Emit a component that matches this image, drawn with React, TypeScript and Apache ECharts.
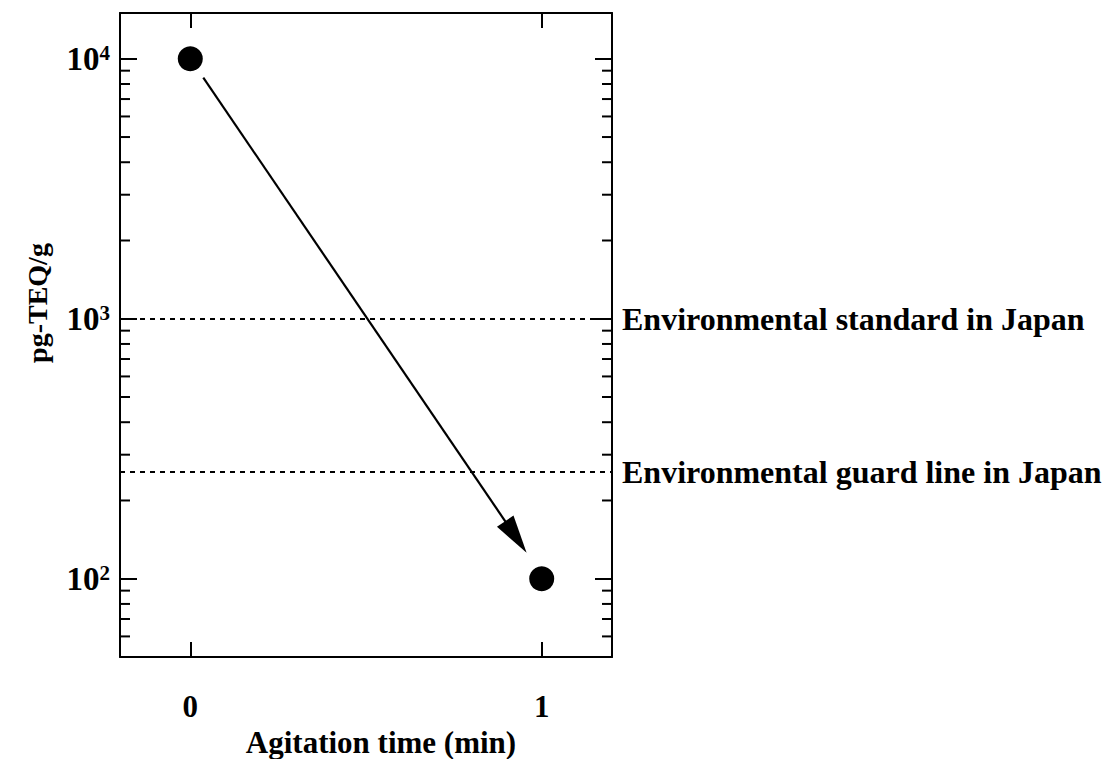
import React, { useEffect, useRef } from "react";
import * as echarts from "echarts";

// ---- data ----
const xTickValues = [0, 1];
const yMinorValues = [60, 70, 80, 90, 200, 300, 400, 500, 600, 700, 800, 900, 2000, 3000, 4000, 5000, 6000, 7000, 8000, 9000];
const points = [
  [0, 10000],
  [1, 100],
];
// arrow: [xStart, yStart, xTip, yTip]
const arrow = [0.037, 8460, 0.957, 126];
const refLines = [
  { value: 1000, label: "Environmental standard in Japan" },
  { value: 258, label: "Environmental guard line in Japan" },
];
const xName = "Agitation time (min)";
const yName = "pg-TEQ/g";

const FONT = "'Liberation Serif', 'Times New Roman', serif";

export default function App() {
  const ref = useRef<HTMLDivElement>(null);
  useEffect(() => {
    if (!ref.current) return;
    const chart = echarts.init(ref.current, null, { renderer: "svg" });
    const axisLine = { show: true, onZero: false, lineStyle: { color: "#000", width: 2 } };
    const isPow = (v: number) => Math.abs(Math.log10(v) - Math.round(Math.log10(v))) < 1e-6;
    const yLabel = {
      show: true,
      margin: 10,
      showMinLabel: false,
      showMaxLabel: false,
      fontSize: 33,
      fontWeight: "bold",
      fontFamily: FONT,
      color: "#000",
      formatter: (v: number) => (isPow(v) ? `{b|10}{s|${Math.round(Math.log10(v))}}` : ""),
      rich: {
        b: { fontSize: 33, fontWeight: "bold", fontFamily: FONT, color: "#000", lineHeight: 32 },
        s: { fontSize: 21, fontWeight: "bold", fontFamily: FONT, color: "#000", verticalAlign: "top", lineHeight: 32, padding: [0, 0, 14, 0] },
      },
    };
    const xAxisBase = {
      type: "value",
      min: -0.2,
      max: 1.2,
      axisLine,
      splitLine: { show: false },
      axisTick: { show: true, inside: true, length: 15, customValues: xTickValues, lineStyle: { color: "#000", width: 2 } },
    };
    const yAxisBase = {
      type: "log",
      logBase: 10,
      min: 50,
      max: 15000,
      axisLine,
      splitLine: { show: false },
      axisTick: { show: true, inside: true, length: 17, lineStyle: { color: "#000", width: 2 } },
    };
    const option = {
      animation: false,
      backgroundColor: "#fff",
      grid: { left: 120, right: 497, top: 13, bottom: 102, containLabel: false, outerBoundsMode: "none" },
      xAxis: [
        {
          ...xAxisBase,
          position: "bottom",
          name: xName,
          nameLocation: "middle",
          nameGap: 56,
          nameTextStyle: { fontSize: 31, fontWeight: "bold", fontFamily: FONT, color: "#000", padding: [0, 0, 0, 30] },
          axisLabel: { show: true, customValues: xTickValues, margin: 34, fontSize: 31, fontWeight: "bold", fontFamily: FONT, color: "#000" },
        },
        { ...xAxisBase, position: "top", axisLabel: { show: false } },
      ],
      yAxis: [
        { ...yAxisBase, position: "left", axisLabel: yLabel },
        { ...yAxisBase, position: "right", axisLabel: { show: false } },
      ],
      graphic: [
        {
          type: "text",
          x: 37,
          y: 303,
          rotation: Math.PI / 2,
          style: { text: yName, font: `bold 28px ${FONT}`, fill: "#000", align: "center", verticalAlign: "middle" },
        },
      ],
      series: [
        {
          type: "custom",
          xAxisIndex: 0,
          yAxisIndex: 0,
          silent: true,
          encode: { x: 0, y: 1 },
          data: yMinorValues.map((v) => [-0.2, v]),
          renderItem: (params: any, api: any) => {
            const cs = params.coordSys;
            const y = api.coord([0, api.value(1)])[1];
            const st = { stroke: "#000", lineWidth: 2 };
            return {
              type: "group",
              children: [
                { type: "line", shape: { x1: cs.x, y1: y, x2: cs.x + 10, y2: y }, style: st },
                { type: "line", shape: { x1: cs.x + cs.width - 10, y1: y, x2: cs.x + cs.width, y2: y }, style: st },
              ],
            };
          },
        },
        {
          type: "custom",
          xAxisIndex: 0,
          yAxisIndex: 0,
          silent: true,
          encode: { x: [0, 2], y: [1, 3] },
          data: [arrow],
          renderItem: (params: any, api: any) => {
            const p0 = api.coord([api.value(0), api.value(1)]);
            const p1 = api.coord([api.value(2), api.value(3)]);
            const dx = p1[0] - p0[0];
            const dy = p1[1] - p0[1];
            const len = Math.sqrt(dx * dx + dy * dy);
            const ux = dx / len;
            const uy = dy / len;
            const L = 38;
            const W = 10;
            const bx = p1[0] - ux * L;
            const by = p1[1] - uy * L;
            return {
              type: "group",
              children: [
                { type: "line", shape: { x1: p0[0], y1: p0[1], x2: bx + ux * 4, y2: by + uy * 4 }, style: { stroke: "#000", lineWidth: 2.2 } },
                {
                  type: "polygon",
                  shape: { points: [p1, [bx - uy * W, by + ux * W], [bx + uy * W, by - ux * W]] },
                  style: { fill: "#000" },
                },
              ],
            };
          },
        },
        {
          type: "scatter",
          xAxisIndex: 0,
          yAxisIndex: 0,
          symbol: "circle",
          symbolSize: 25,
          itemStyle: { color: "#000", opacity: 1 },
          data: points,
          z: 5,
          markLine: {
            silent: true,
            symbol: ["none", "none"],
            lineStyle: { color: "#000", type: [5, 5], width: 2, opacity: 1 },
            label: {
              show: true,
              position: "end",
              distance: 10,
              fontSize: 32,
              fontWeight: "bold",
              fontFamily: FONT,
              color: "#000",
            },
            data: refLines.map((r) => ({ yAxis: r.value, label: { formatter: r.label } })),
          },
        },
      ],
    };
    chart.setOption(option as any);
    return () => chart.dispose();
  }, []);
  return <div ref={ref} style={{ position: "fixed", left: 0, top: 0, width: 1109, height: 759 }} />;
}
